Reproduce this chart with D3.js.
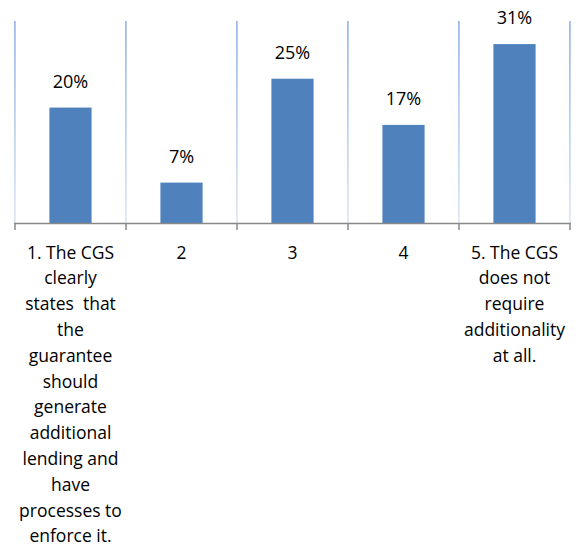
<!DOCTYPE html>
<html>
<head>
<meta charset="utf-8">
<script src="https://cdn.jsdelivr.net/npm/d3@7"></script>
<style>
  html, body { margin: 0; padding: 0; background: #ffffff; }
  svg { display: block; }
  text { font-family: "Open Sans", "Noto Sans", sans-serif; fill: #000; }
</style>
</head>
<body>
<svg id="chart" width="579" height="550"></svg>
<script>
// Share of responses on each point of the additionality scale
const categories = [
  "1. The CGS\nclearly\nstates  that\nthe\nguarantee\nshould\ngenerate\nadditional\nlending and\nhave\nprocesses to\nenforce it.",
  "2",
  "3",
  "4",
  "5. The CGS\ndoes not\nrequire\nadditionality\nat all."
];
const values = [20, 7, 25, 17, 31];
const valueLabels = ["20%", "7%", "25%", "17%", "31%"];
const yDomain = [0, 35];

const svg = d3.select("#chart");
const margin = { left: 15, right: 9, top: 21, baseline: 223 };
const width = 579;

const x = d3.scaleBand()
  .domain(categories)
  .range([margin.left, width - margin.right])
  .paddingInner(0.62)
  .paddingOuter(0.31);

const y = d3.scaleLinear()
  .domain(yDomain)
  .range([margin.baseline, margin.top]);

const step = x.step();
const boundaries = d3.range(categories.length + 1).map(i => margin.left + i * step);

// Vertical gridlines fading towards the baseline
const defs = svg.append("defs");
const grad = defs.append("linearGradient")
  .attr("id", "gridFade")
  .attr("gradientUnits", "userSpaceOnUse")
  .attr("x1", 0).attr("x2", 0)
  .attr("y1", y(yDomain[1])).attr("y2", y(0));
grad.append("stop").attr("offset", "0%").attr("stop-color", "#9dbbe8");
grad.append("stop").attr("offset", "100%").attr("stop-color", "#dfe8f6");

svg.append("g")
  .selectAll("rect")
  .data(boundaries)
  .join("rect")
  .attr("x", d => d - 1)
  .attr("y", y(yDomain[1]))
  .attr("width", 1.8)
  .attr("height", y(0) - y(yDomain[1]))
  .attr("fill", "url(#gridFade)");

// Bars
svg.append("g")
  .selectAll("rect")
  .data(values)
  .join("rect")
  .attr("x", (d, i) => x(categories[i]))
  .attr("y", d => y(d))
  .attr("width", x.bandwidth())
  .attr("height", d => y(0) - y(d))
  .attr("fill", "#4f81bd");

// Value labels
svg.append("g")
  .selectAll("text")
  .data(values)
  .join("text")
  .attr("x", (d, i) => x(categories[i]) + x.bandwidth() / 2)
  .attr("y", d => y(d) - 20)
  .attr("text-anchor", "middle")
  .attr("font-size", 18)
  .text((d, i) => valueLabels[i]);

// Category axis: line plus tick marks between categories
const axis = svg.append("g");
axis.append("line")
  .attr("x1", boundaries[0] - 1)
  .attr("x2", boundaries[boundaries.length - 1] + 1)
  .attr("y1", y(0) + 0.5)
  .attr("y2", y(0) + 0.5)
  .attr("stroke", "#888")
  .attr("stroke-width", 1.5);
axis.selectAll("line.tick")
  .data(boundaries)
  .join("line")
  .attr("class", "tick")
  .attr("x1", d => d)
  .attr("x2", d => d)
  .attr("y1", y(0))
  .attr("y2", y(0) + 7)
  .attr("stroke", "#888")
  .attr("stroke-width", 1.5);

// Multi-line category labels
const lineHeight = 25.8;
axis.selectAll("text.cat")
  .data(categories)
  .join("text")
  .attr("class", "cat")
  .attr("text-anchor", "middle")
  .attr("font-size", 17.5)
  .each(function(d) {
    const t = d3.select(this);
    const cx = x(d) + x.bandwidth() / 2;
    d.split("\n").forEach((ln, i) => {
      t.append("tspan")
        .attr("x", cx)
        .attr("y", y(0) + 35.5 + i * lineHeight)
        .style("white-space", "pre")
        .text(ln);
    });
  });
</script>
</body>
</html>
